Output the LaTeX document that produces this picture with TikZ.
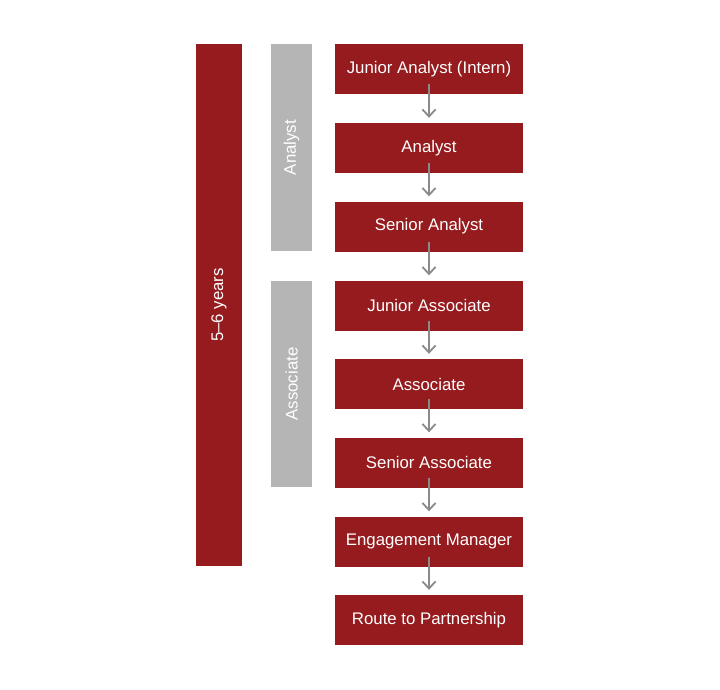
\documentclass[tikz,border=0pt]{standalone}
\usepackage{fontspec}
\setmainfont{Liberation Sans}
\usetikzlibrary{arrows.meta}
\definecolor{dred}{HTML}{951B1E}
\definecolor{lgray}{HTML}{B5B5B5}
\definecolor{agray}{HTML}{8A8A8A}
\begin{document}
\begin{tikzpicture}[x=1pt,y=-1pt,
  lbl/.style={text=white,font=\fontsize{16.8}{19}\selectfont},
  stepbox/.style={lbl,fill=dred,draw=none,minimum width=188pt,minimum height=50pt,inner sep=0pt},
  arr/.style={draw=agray,line width=1.8pt,-{Straight Barb[length=7pt,width=13pt,line width=1.8pt]}}]
\useasboundingbox (0,0) rectangle (720,690);
\fill[white] (0,0) rectangle (720,690);
% left bar
\path[fill=dred] (196,44) rectangle (242,566);
\node[lbl,rotate=90] (yrs) at (219,305) {5–6 years};
% gray bars
\path[fill=lgray] (271,44) rectangle (312,251);
\node[lbl,rotate=90] (an) at (291.5,147.5) {Analyst};
\path[fill=lgray] (271,281) rectangle (312,487);
\node[lbl,rotate=90] (as) at (291.5,384) {Associate};
% steps
\node[stepbox] (s1) at (429,69) {Junior Analyst (Intern)};
\node[stepbox] (s2) at (429,148) {Analyst};
\node[stepbox] (s3) at (429,226.5) {Senior Analyst};
\node[stepbox] (s4) at (429,305.5) {Junior Associate};
\node[stepbox] (s5) at (429,384) {Associate};
\node[stepbox] (s6) at (429,462.5) {Senior Associate};
\node[stepbox] (s7) at (429,541.5) {Engagement Manager};
\node[stepbox] (s8) at (429,620) {Route to Partnership};
\foreach \a/\b in {s1/s2,s2/s3,s3/s4,s4/s5,s5/s6,s6/s7,s7/s8}{
  \draw[arr] ([yshift=10pt]\a.south) -- ([yshift=5pt]\b.north);
}
\end{tikzpicture}
\end{document}
